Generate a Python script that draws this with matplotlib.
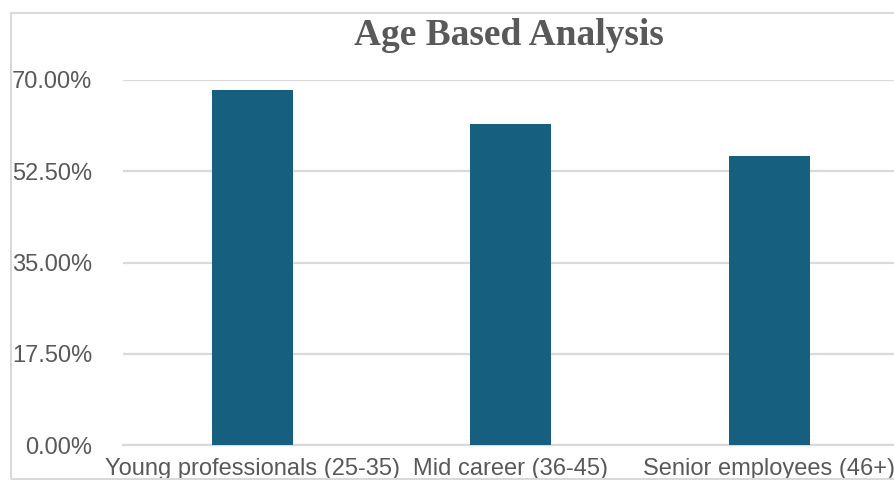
import matplotlib
matplotlib.use("Agg")
import matplotlib.pyplot as plt
from matplotlib.patches import Rectangle
from matplotlib.ticker import FixedLocator, FuncFormatter

categories = ["Young professionals (25-35)", "Mid career (36-45)", "Senior employees (46+)"]
shares = [68.0, 61.6, 55.4]
y_ticks = [0.0, 17.5, 35.0, 52.5, 70.0]

BAR_COLOR = "#175f7f"
GRID_COLOR = "#d9d9d9"
TEXT_COLOR = "#595959"

W, H = 895, 480
fig = plt.figure(figsize=(W / 100, H / 100), dpi=100)
fig.patch.set_facecolor("white")

# chart frame
fig.patches.append(Rectangle((11.5 / W, 1 - 479 / H), (W + 20) / W, (479 - 12.5) / H,
                             transform=fig.transFigure, fill=False,
                             edgecolor=GRID_COLOR, linewidth=1.5, zorder=0))

left, right = 123 / W, 898.5 / W
bottom, top = 1 - 445 / H, 1 - 80 / H
ax = fig.add_axes([left, bottom, right - left, top - bottom])
ax.set_facecolor("none")

x = list(range(len(categories)))
ax.bar(x, shares, width=0.313, color=BAR_COLOR, zorder=3)

ax.set_xlim(-0.5, len(categories) - 0.5)
ax.set_ylim(0, 70)
ax.yaxis.set_major_locator(FixedLocator(y_ticks))
ax.yaxis.set_major_formatter(FuncFormatter(lambda v, p: f"{v:.2f}%"))
ax.grid(axis="y", color=GRID_COLOR, linewidth=1.6, zorder=0)
ax.set_axisbelow(True)
for s in ["top", "right", "left"]:
    ax.spines[s].set_visible(False)
ax.spines["bottom"].set_color(GRID_COLOR)
ax.spines["bottom"].set_linewidth(1.6)

ax.set_xticks(x)
ax.set_xticklabels(categories)
ax.tick_params(axis="both", length=0, labelsize=17, labelcolor=TEXT_COLOR)
ax.tick_params(axis="y", pad=22)
ax.tick_params(axis="x", pad=9)
for lbl in ax.get_xticklabels() + ax.get_yticklabels():
    lbl.set_fontfamily("Liberation Sans")

fig.text(509 / W, 1 - 45 / H, "Age Based Analysis", ha="center", va="baseline",
         fontsize=27, fontweight="bold", family="Liberation Serif", color=TEXT_COLOR)

fig.savefig("out.png", dpi=100)
